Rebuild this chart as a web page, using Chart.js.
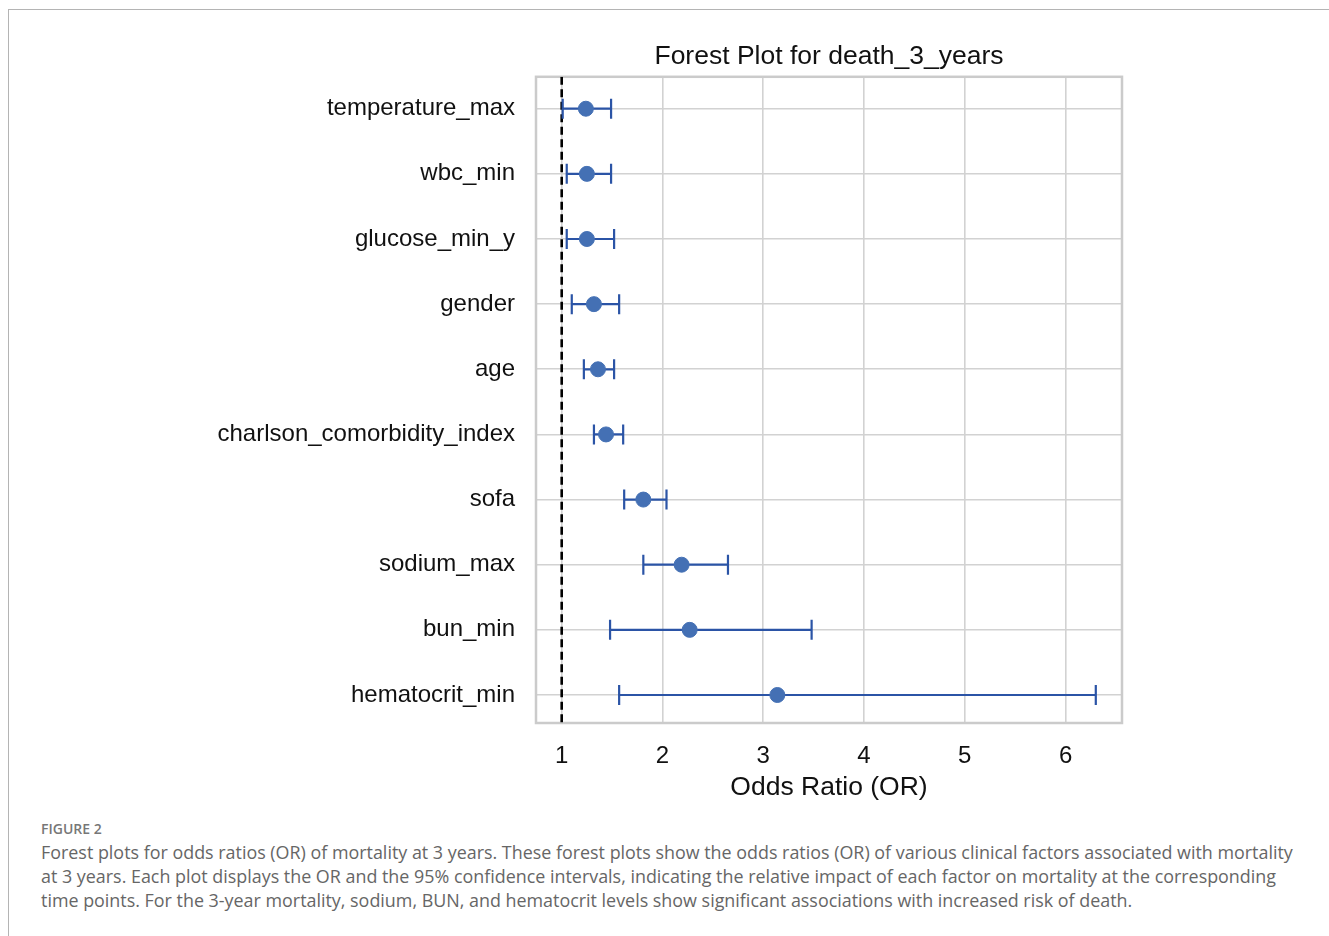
<!DOCTYPE html>
<html>
<head>
<meta charset="utf-8">
<script src="https://cdn.jsdelivr.net/npm/chart.js@4.4.1/dist/chart.umd.min.js"></script>
<style>
  html, body { margin: 0; padding: 0; background: #fff; width: 1329px; height: 936px; overflow: hidden; }
  #frame { position: absolute; left: 8px; top: 9px; width: 1340px; height: 950px; border-left: 1.5px solid #b4b4b4; border-top: 1.5px solid #b4b4b4; }
  #wrap { position: absolute; left: 0; top: 0; width: 1329px; height: 815px; }
  #caption { position: absolute; left: 41px; top: 818px; font-family: "Open Sans", sans-serif; color: #666; }
  #caption .fig { font-size: 14px; font-weight: 600; color: #777; line-height: 22px; }
  #caption .line { font-size: 17.9px; line-height: 24px; white-space: nowrap; }
</style>
</head>
<body>
<div id="frame"></div>
<div id="wrap"><canvas id="forest" width="1329" height="815"></canvas></div>
<div id="caption">
  <div class="fig">FIGURE 2</div>
  <div class="line">Forest plots for odds ratios (OR) of mortality at 3 years. These forest plots show the odds ratios (OR) of various clinical factors associated with mortality</div>
  <div class="line">at 3 years. Each plot displays the OR and the 95% confidence intervals, indicating the relative impact of each factor on mortality at the corresponding</div>
  <div class="line">time points. For the 3-year mortality, sodium, BUN, and hematocrit levels show significant associations with increased risk of death.</div>
</div>
<script>
const factors = ['temperature_max', 'wbc_min', 'glucose_min_y', 'gender', 'age',
  'charlson_comorbidity_index', 'sofa', 'sodium_max', 'bun_min', 'hematocrit_min'];
const oddsRatio = [1.24, 1.25, 1.25, 1.32, 1.36, 1.44, 1.81, 2.19, 2.27, 3.14];
const ciLow     = [1.01, 1.05, 1.05, 1.10, 1.22, 1.32, 1.62, 1.81, 1.48, 1.57];
const ciHigh    = [1.49, 1.49, 1.52, 1.57, 1.52, 1.61, 2.04, 2.65, 3.48, 6.30];
const xTicks = [1, 2, 3, 4, 5, 6];
const refLine = 1;

// axis limits as in the original figure
const xMin = 0.745, xMax = 6.56;
const yMin = -0.49, yMax = 9.43;

const lineBlue = '#2b54a6';
const dotBlue = '#4470b4';
const gridGrey = '#d2d2d2';

// one little line per factor, the end points are the caps
const ciSets = factors.map((f, i) => ({
  type: 'line',
  data: [{x: ciLow[i], y: i}, {x: ciHigh[i], y: i}],
  borderColor: lineBlue,
  borderWidth: 2.2,
  pointStyle: 'line',
  pointRotation: 90,
  pointRadius: 10,
  pointBorderWidth: 2.2,
  pointBorderColor: lineBlue,
  order: 2
}));

const frameBox = {
  id: 'frameBox',
  beforeDatasetsDraw(chart) {
    const {ctx, chartArea: a} = chart;
    ctx.save();
    ctx.strokeStyle = '#cbcbcb';
    ctx.lineWidth = 2.5;
    ctx.strokeRect(a.left, a.top, a.right - a.left, a.bottom - a.top);
    ctx.restore();
  }
};

const font = 'Liberation Sans, Arial, sans-serif';

new Chart(document.getElementById('forest'), {
  type: 'scatter',
  data: {
    datasets: [
      {
        type: 'line',
        data: [{x: refLine, y: yMin}, {x: refLine, y: yMax}],
        borderColor: '#000',
        borderWidth: 2.6,
        borderDash: [8, 4.5],
        pointRadius: 0,
        order: 3
      },
      ...ciSets,
      {
        data: factors.map((f, i) => ({x: oddsRatio[i], y: i})),
        backgroundColor: dotBlue,
        borderColor: dotBlue,
        pointRadius: 7.5,
        order: 1
      }
    ]
  },
  options: {
    responsive: false,
    animation: false,
    events: [],
    layout: { padding: { left: 0, right: 207, top: 0, bottom: 0 } },
    plugins: {
      legend: { display: false },
      tooltip: { enabled: false },
      title: {
        display: true,
        text: 'Forest Plot for death_3_years',
        fullSize: false,
        color: '#111',
        font: { family: font, size: 26.5, weight: 'normal' },
        padding: { top: 41, bottom: 4 }
      }
    },
    scales: {
      x: {
        type: 'linear',
        min: xMin,
        max: xMax,
        afterBuildTicks: axis => { axis.ticks = xTicks.map(v => ({value: v})); },
        afterFit: scale => { scale.height = 92; },
        grid: { color: gridGrey, lineWidth: 1.6, drawTicks: false },
        border: { display: false },
        ticks: { color: '#111', padding: 19, font: { family: font, size: 24 } },
        title: {
          display: true,
          text: 'Odds Ratio (OR)',
          color: '#111',
          font: { family: font, size: 26.5 },
          padding: { top: 0, bottom: 11 }
        }
      },
      y: {
        type: 'linear',
        reverse: true,
        min: yMin,
        max: yMax,
        afterBuildTicks: axis => { axis.ticks = factors.map((f, i) => ({value: i})); },
        afterFit: scale => { scale.width = 536; },
        grid: { color: gridGrey, lineWidth: 1.6, drawTicks: false },
        border: { display: false },
        ticks: {
          color: '#111',
          padding: 21,
          font: { family: font, size: 24 },
          callback: v => factors[v]
        }
      }
    }
  },
  plugins: [frameBox]
});
</script>
</body>
</html>
